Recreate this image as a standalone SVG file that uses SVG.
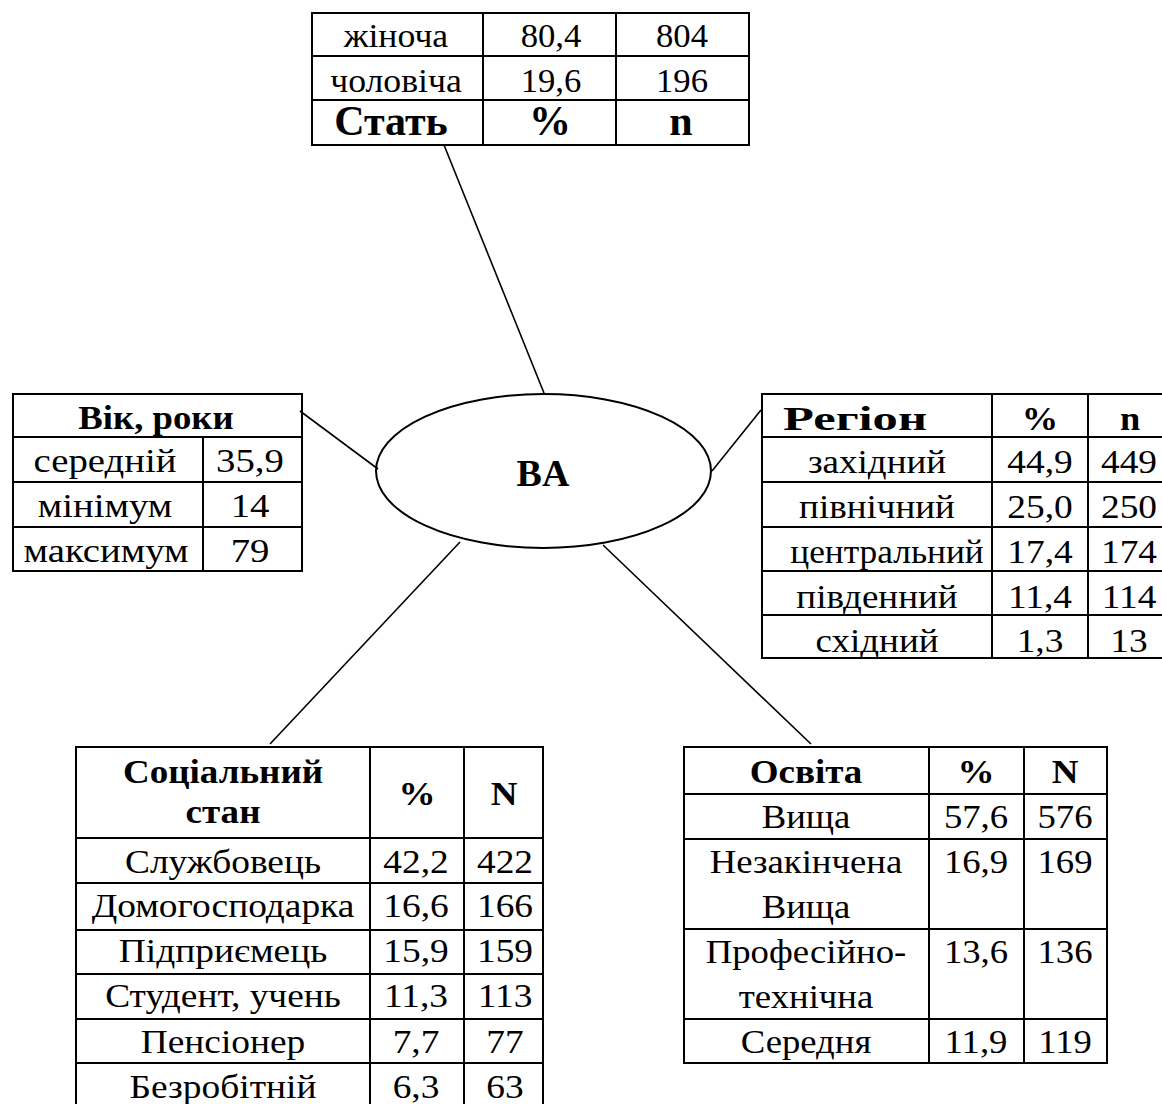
<svg xmlns="http://www.w3.org/2000/svg" width="1162" height="1104" viewBox="0 0 1162 1104">
<style>
  .b{fill:none;stroke:#000;stroke-width:2}
  .c{fill:none;stroke:#000;stroke-width:1.6}
  text{font-family:"Liberation Serif","Times New Roman",serif;font-size:34px;fill:#000;text-anchor:middle}
  .h{font-weight:bold}
  .hb{font-weight:bold;font-size:42px}
  .ba{font-weight:bold;font-size:38px}
</style>
<rect width="1162" height="1104" fill="#fff"/>
<g id="connectors">
  <line class="c" x1="444" y1="145" x2="544" y2="393"/>
  <line class="c" x1="300" y1="411" x2="378" y2="469"/>
  <line class="c" x1="712" y1="471" x2="761" y2="410"/>
  <line class="c" x1="460" y1="542" x2="270" y2="744"/>
  <line class="c" x1="603" y1="545" x2="811" y2="744"/>
</g>
<g id="center">
  <ellipse class="b" cx="543.5" cy="471" rx="167.5" ry="77" fill="#fff"/>
  <text class="ba" x="543" y="486">BA</text>
</g>
<g id="gender">
  <rect class="b" x="312" y="13" width="437" height="132"/>
  <path class="b" d="M312 56H749M312 100H749M483 13V145M616 13V145"/>
  <text transform="translate(396 47) scale(1.05 1)">жіноча</text>
  <text transform="translate(551 47) scale(1.02 1)">80,4</text>
  <text transform="translate(682 47) scale(1.02 1)">804</text>
  <text transform="translate(396 92) scale(1.05 1)">чоловіча</text>
  <text transform="translate(551 92) scale(1.02 1)">19,6</text>
  <text transform="translate(682 92) scale(1.02 1)">196</text>
  <text class="hb" x="391" y="135">Стать</text><text class="hb" x="550" y="135">%</text><text class="hb" x="681" y="135">n</text>
</g>
<g id="age">
  <rect class="b" x="13" y="394" width="289" height="177"/>
  <path class="b" d="M13 437H302M13 482H302M13 527H302M203 437V571"/>
  <text class="h" transform="translate(156 429) scale(1.08 1)">Вік, роки</text>
  <text transform="translate(105 472) scale(1.14 1)">середній</text>
  <text transform="translate(250 472) scale(1.14 1)">35,9</text>
  <text transform="translate(105 517) scale(1.14 1)">мінімум</text>
  <text transform="translate(250 517) scale(1.14 1)">14</text>
  <text transform="translate(106 562) scale(1.14 1)">максимум</text>
  <text transform="translate(250 562) scale(1.14 1)">79</text>
</g>
<g id="region">
  <rect class="b" x="762" y="394" width="410" height="264"/>
  <path class="b" d="M762 437H1172M762 482H1172M762 527H1172M762 571H1172M762 615H1172M992 394V658M1088 394V658"/>
  <text class="h" x="855" y="430" textLength="144" lengthAdjust="spacingAndGlyphs">Регіон</text>
  <text class="h" transform="translate(1040 430) scale(1.07 1)">%</text>
  <text class="h" transform="translate(1130 430) scale(1.07 1)">n</text>
  <text transform="translate(877 473) scale(1.09 1)">західний</text>
  <text transform="translate(1040 473) scale(1.1 1)">44,9</text>
  <text transform="translate(1129 473) scale(1.1 1)">449</text>
  <text transform="translate(877 518) scale(1.09 1)">північний</text>
  <text transform="translate(1040 518) scale(1.1 1)">25,0</text>
  <text transform="translate(1129 518) scale(1.1 1)">250</text>
  <text transform="translate(887 563) scale(1.04 1)">центральний</text>
  <text transform="translate(1040 563) scale(1.1 1)">17,4</text>
  <text transform="translate(1129 563) scale(1.1 1)">174</text>
  <text transform="translate(877 608) scale(1.09 1)">південний</text>
  <text transform="translate(1040 608) scale(1.1 1)">11,4</text>
  <text transform="translate(1129 608) scale(1.1 1)">114</text>
  <text transform="translate(877 652) scale(1.09 1)">східний</text>
  <text transform="translate(1040 652) scale(1.1 1)">1,3</text>
  <text transform="translate(1129 652) scale(1.1 1)">13</text>
</g>
<g id="social">
  <rect class="b" x="76" y="747" width="467" height="361"/>
  <path class="b" d="M76 838H543M76 883H543M76 930H543M76 974H543M76 1019H543M76 1063H543M370 747V1108M464 747V1108"/>
  <text class="h" transform="translate(223 783) scale(1.09 1)">Соціальний</text>
  <text class="h" transform="translate(223 823) scale(1.09 1)">стан</text>
  <text class="h" transform="translate(417 805) scale(1.09 1)">%</text>
  <text class="h" transform="translate(504 805) scale(1.09 1)">N</text>
  <text transform="translate(223 873) scale(1.1 1)">Службовець</text>
  <text transform="translate(416 873) scale(1.1 1)">42,2</text>
  <text transform="translate(505 873) scale(1.1 1)">422</text>
  <text transform="translate(223 917) scale(1.1 1)">Домогосподарка</text>
  <text transform="translate(416 917) scale(1.1 1)">16,6</text>
  <text transform="translate(505 917) scale(1.1 1)">166</text>
  <text transform="translate(223 962) scale(1.1 1)">Підприємець</text>
  <text transform="translate(416 962) scale(1.1 1)">15,9</text>
  <text transform="translate(505 962) scale(1.1 1)">159</text>
  <text transform="translate(223 1007) scale(1.1 1)">Студент, учень</text>
  <text transform="translate(416 1007) scale(1.1 1)">11,3</text>
  <text transform="translate(505 1007) scale(1.1 1)">113</text>
  <text transform="translate(223 1053) scale(1.1 1)">Пенсіонер</text>
  <text transform="translate(416 1053) scale(1.1 1)">7,7</text>
  <text transform="translate(505 1053) scale(1.1 1)">77</text>
  <text transform="translate(223 1098) scale(1.1 1)">Безробітній</text>
  <text transform="translate(416 1098) scale(1.1 1)">6,3</text>
  <text transform="translate(505 1098) scale(1.1 1)">63</text>
</g>
<g id="education">
  <rect class="b" x="684" y="747" width="423" height="316"/>
  <path class="b" d="M684 794H1107M684 839H1107M684 929H1107M684 1019H1107M929 747V1063M1024 747V1063"/>
  <text class="h" transform="translate(806 783) scale(1.09 1)">Освіта</text>
  <text class="h" transform="translate(976 783) scale(1.09 1)">%</text>
  <text class="h" transform="translate(1065 783) scale(1.09 1)">N</text>
  <text transform="translate(806 828) scale(1.08 1)">Вища</text>
  <text transform="translate(976 828) scale(1.08 1)">57,6</text>
  <text transform="translate(1065 828) scale(1.08 1)">576</text>
  <text transform="translate(806 873) scale(1.08 1)">Незакінчена</text>
  <text transform="translate(976 873) scale(1.08 1)">16,9</text>
  <text transform="translate(1065 873) scale(1.08 1)">169</text>
  <text transform="translate(806 918) scale(1.08 1)">Вища</text>
  <text transform="translate(806 963) scale(1.08 1)">Професійно-</text>
  <text transform="translate(976 963) scale(1.08 1)">13,6</text>
  <text transform="translate(1065 963) scale(1.08 1)">136</text>
  <text transform="translate(806 1008) scale(1.08 1)">технічна</text>
  <text transform="translate(806 1053) scale(1.08 1)">Середня</text>
  <text transform="translate(976 1053) scale(1.08 1)">11,9</text>
  <text transform="translate(1065 1053) scale(1.08 1)">119</text>
</g>
</svg>
